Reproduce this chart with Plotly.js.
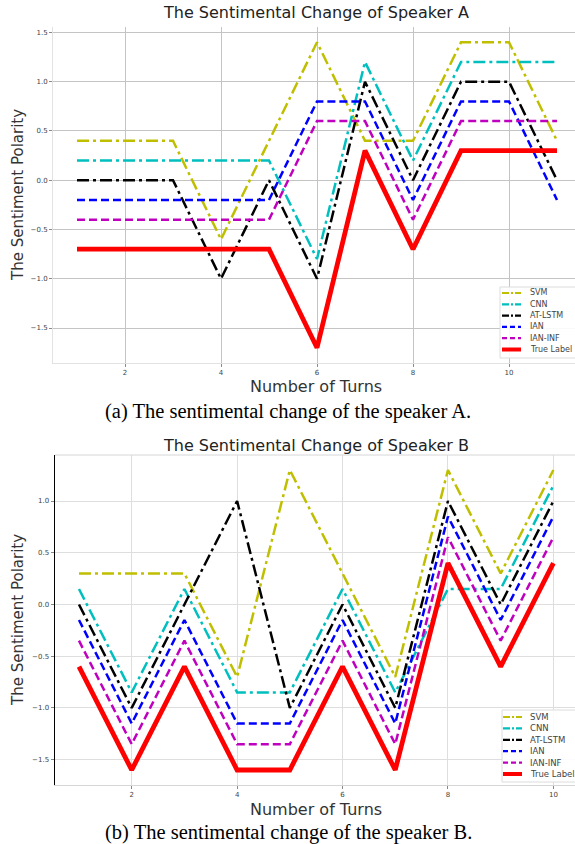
<!DOCTYPE html>
<html>
<head>
<meta charset="utf-8">
<script src="https://cdn.plot.ly/plotly-3.0.1.min.js"></script>
<style>html,body{margin:0;padding:0;background:#fff;}#chart{width:575px;height:844px;}</style>
</head>
<body>
<div id="chart"></div>
<script>
// ---- Data ----
const seriesNames = ["SVM", "CNN", "AT-LSTM", "IAN", "IAN-INF", "True Label"];

// Speaker A (turns 1..11)
const turnsA = [1, 2, 3, 4, 5, 6, 7, 8, 9, 10, 11];
const svmA     = [0.4, 0.4, 0.4, -0.6, 0.4, 1.4, 0.4, 0.4, 1.4, 1.4, 0.4];
const cnnA     = [0.2, 0.2, 0.2, 0.2, 0.2, -0.8, 1.2, 0.2, 1.2, 1.2, 1.2];
const atlstmA  = [0.0, 0.0, 0.0, -1.0, 0.0, -1.0, 1.0, 0.0, 1.0, 1.0, 0.0];
const ianA     = [-0.2, -0.2, -0.2, -0.2, -0.2, 0.8, 0.8, -0.2, 0.8, 0.8, -0.2];
const ianinfA  = [-0.4, -0.4, -0.4, -0.4, -0.4, 0.6, 0.6, -0.4, 0.6, 0.6, 0.6];
const trueA    = [-0.7, -0.7, -0.7, -0.7, -0.7, -1.7, 0.3, -0.7, 0.3, 0.3, 0.3];

// Speaker B (turns 1..10)
const turnsB = [1, 2, 3, 4, 5, 6, 7, 8, 9, 10];
const svmB     = [0.3, 0.3, 0.3, -0.7, 1.3, 0.3, -0.7, 1.3, 0.3, 1.3];
const cnnB     = [0.15, -0.85, 0.15, -0.85, -0.85, 0.15, -0.85, 0.15, 0.15, 1.15];
const atlstmB  = [0.0, -1.0, 0.0, 1.0, -1.0, 0.0, -1.0, 1.0, 0.0, 1.0];
const ianB     = [-0.15, -1.15, -0.15, -1.15, -1.15, -0.15, -1.15, 0.85, -0.15, 0.85];
const ianinfB  = [-0.35, -1.35, -0.35, -1.35, -1.35, -0.35, -1.35, 0.65, -0.35, 0.65];
const trueB    = [-0.6, -1.6, -0.6, -1.6, -1.6, -0.6, -1.6, 0.4, -0.6, 0.4];

const xTickVals = [2, 4, 6, 8, 10];
const yTickVals = [-1.5, -1.0, -0.5, 0.0, 0.5, 1.0, 1.5];

// ---- Styles ----
const styles = [
  {color: "#bfbf00", width: 2.5, dash: "12px,4px,3px,4px"},
  {color: "#00bfbf", width: 2.5, dash: "12px,4px,3px,4px"},
  {color: "#000000", width: 2.5, dash: "12px,4px,3px,4px"},
  {color: "#0000ff", width: 2.5, dash: "8px,4px"},
  {color: "#bf00bf", width: 2.5, dash: "8px,4px"},
  {color: "#ff0000", width: 4.8, dash: "solid"}
];

const dataA = [svmA, cnnA, atlstmA, ianA, ianinfA, trueA];
const dataB = [svmB, cnnB, atlstmB, ianB, ianinfB, trueB];

const traces = [];
dataA.forEach((ys, i) => traces.push({
  x: turnsA, y: ys, name: seriesNames[i], type: "scatter", mode: "lines",
  line: styles[i], xaxis: "x", yaxis: "y", showlegend: false
}));
dataB.forEach((ys, i) => traces.push({
  x: turnsB, y: ys, name: seriesNames[i], type: "scatter", mode: "lines",
  line: styles[i], xaxis: "x2", yaxis: "y2", showlegend: false
}));

const W = 575, H = 844;
const px = v => v / W;
const py = v => 1 - v / H;

const tickFont = {family: "DejaVu Sans", size: 7, color: "#444"};
function xAxis(domain, range, grid, lineColor, anchor) {
  return {domain, range, anchor, tickvals: xTickVals, ticks: "outside", ticklen: 3, tickcolor: "#888",
    tickfont: tickFont, showgrid: true, gridcolor: grid, gridwidth: 1, zeroline: false,
    showline: true, linecolor: lineColor, linewidth: 1, fixedrange: true};
}
function yAxis(domain, range, grid, lineColor, lw, anchor) {
  return {domain, range, anchor, tickvals: yTickVals, tickformat: ".1f", ticks: "outside", ticklen: 3, tickcolor: "#888",
    tickfont: tickFont, showgrid: true, gridcolor: grid, gridwidth: 1, zeroline: false,
    showline: true, linecolor: lineColor, linewidth: lw, fixedrange: true};
}

const titleFont = {family: "DejaVu Sans", size: 16, color: "#222"};
const yTitleFont = {family: "DejaVu Sans", size: 15, color: "#333"};
const xTitleFont = {family: "DejaVu Sans", size: 16, color: "#333"};
const capFont = {family: "Liberation Serif", size: 20.5, color: "#000"};

const ann = (x, y, text, font, extra) => Object.assign({
  xref: "paper", yref: "paper", x: px(x), y: py(y), text, font, showarrow: false,
  xanchor: "center", yanchor: "middle"
}, extra || {});

const shapes = [
  {type: "line", xref: "paper", yref: "paper", x0: px(55), x1: 1, y0: py(455), y1: py(455),
   line: {color: "#d6d6d6", width: 1}}
];
const annotations = [
  ann(316, 13, "The Sentimental Change of Speaker A", titleFont),
  ann(18, 195, "The Sentiment Polarity", yTitleFont, {textangle: -90}),
  ann(316, 387, "Number of Turns", xTitleFont),
  ann(288, 411, "(a) The sentimental change of the speaker A.", capFont),
  ann(316, 445, "The Sentimental Change of Speaker B", titleFont),
  ann(18, 620, "The Sentiment Polarity", yTitleFont, {textangle: -90}),
  ann(316, 809, "Number of Turns", xTitleFont),
  ann(288, 832, "(b) The sentimental change of the speaker B.", capFont)
];

// Compact legend boxes (matplotlib-like)
function addLegend(box, lineX0, lineX1, textX, rowY0, rowStep, fontSize) {
  shapes.push({type: "rect", xref: "paper", yref: "paper",
    x0: px(box[0]), x1: px(box[1]), y0: py(box[3]), y1: py(box[2]),
    fillcolor: "rgba(255,255,255,0.9)", line: {color: "#dcdcdc", width: 1}});
  seriesNames.forEach((name, i) => {
    const y = rowY0 + i * rowStep;
    const st = styles[i];
    const dash = i < 3 ? "7px,2px,2px,2px" : (i < 5 ? "5px,3px" : "solid");
    shapes.push({type: "line", xref: "paper", yref: "paper",
      x0: px(lineX0), x1: px(lineX1), y0: py(y), y1: py(y),
      line: {color: st.color, width: i === 5 ? 4 : 2.2, dash}});
    annotations.push(ann(textX, y, name,
      {family: "DejaVu Sans", size: fontSize, color: "#444"}, {xanchor: "left"}));
  });
}
addLegend([500, 576, 287, 358], 502, 521, 528, 293, 11.3, 8);
addLegend([502, 576, 710, 782], 503, 522, 528, 717, 11.4, 8.5);

const layout = {
  width: W, height: H,
  margin: {l: 0, r: 0, t: 0, b: 0},
  paper_bgcolor: "#fff", plot_bgcolor: "#fff",
  showlegend: false,
  xaxis: xAxis([px(53), 1], [0.5, 11.375], "#c4c4c4", "#e2e2e2", "y"),
  yaxis: yAxis([py(363), py(27)], [-1.855, 1.555], "#c4c4c4", "#e2e2e2", 1, "x"),
  xaxis2: xAxis([px(55), 1], [0.545, 10.41], "#dedede", "#d6d6d6", "y2"),
  yaxis2: yAxis([py(785), py(455)], [-1.745, 1.445], "#dedede", "#000", 1.5, "x2"),
  shapes, annotations
};

Plotly.newPlot("chart", traces, layout, {displayModeBar: false, staticPlot: true});
</script>
</body>
</html>
